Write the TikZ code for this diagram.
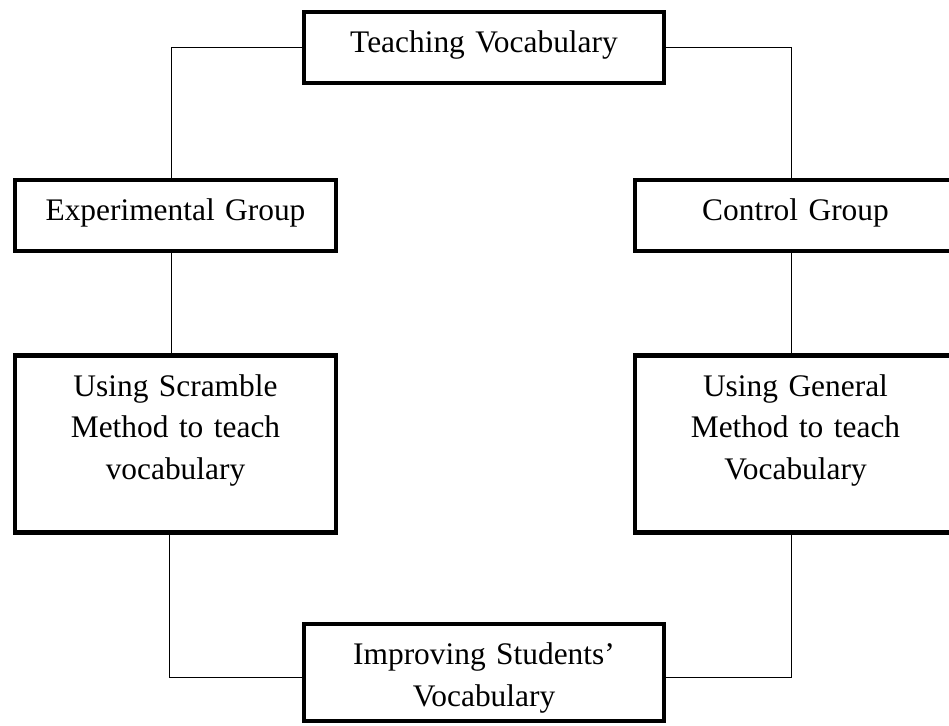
\documentclass[tikz,border=0pt]{standalone}
\usepackage{fontspec}
\setmainfont{Liberation Serif}
\usetikzlibrary{positioning}
\tikzstyle{block} = [draw, rectangle, line width=2.2pt, inner sep=0pt, align=center, text height=20.5pt, text depth=15pt, font=\fontsize{15.7}{20.7}\selectfont]
\tikzstyle{wide block} = [block, text width=180pt]
\tikzstyle{side block} = [block, text width=160.5pt]
\tikzstyle{link} = [line width=0.5pt]

\begin{document}
\begin{tikzpicture}
    \useasboundingbox (0,0) rectangle (474.5pt,-363pt);
    \clip (0,0) rectangle (474.5pt,-363pt);

    \node[wide block, name=teach] at (242pt,-23.75pt) {Teaching Vocabulary};
    \node[side block, name=exper] at (87.75pt,-107.75pt) {Experimental Group};
    \node[side block, right of=exper, name=control, node distance=310pt] {Control Group};
    \node[side block, below of=exper, name=scramble, text depth=68pt, node distance=114.25pt]
        {Using Scramble\\ Method to teach\\ vocabulary};
    \node[side block, right of=scramble, name=general, text depth=68pt, node distance=310pt]
        {Using General\\ Method to teach\\ Vocabulary};
    \node[wide block, name=improve, text depth=28pt] at (242pt,-336.25pt)
        {Improving Students’\\ Vocabulary};

    \draw[link] (teach.west) -| ([xshift=-2.2pt]exper.north);
    \draw[link] (teach.east) -| ([xshift=-1.8pt]control.north);
    \draw[link] ([xshift=-2.2pt]exper.south) -- ([xshift=-2.2pt]scramble.north);
    \draw[link] ([xshift=-1.8pt]control.south) -- ([xshift=-1.8pt]general.north);
    \draw[link] ([xshift=-3pt]scramble.south) |- ([yshift=-2.75pt]improve.west);
    \draw[link] ([xshift=-1.8pt]general.south) |- ([yshift=-2.75pt]improve.east);
\end{tikzpicture}
\end{document}
